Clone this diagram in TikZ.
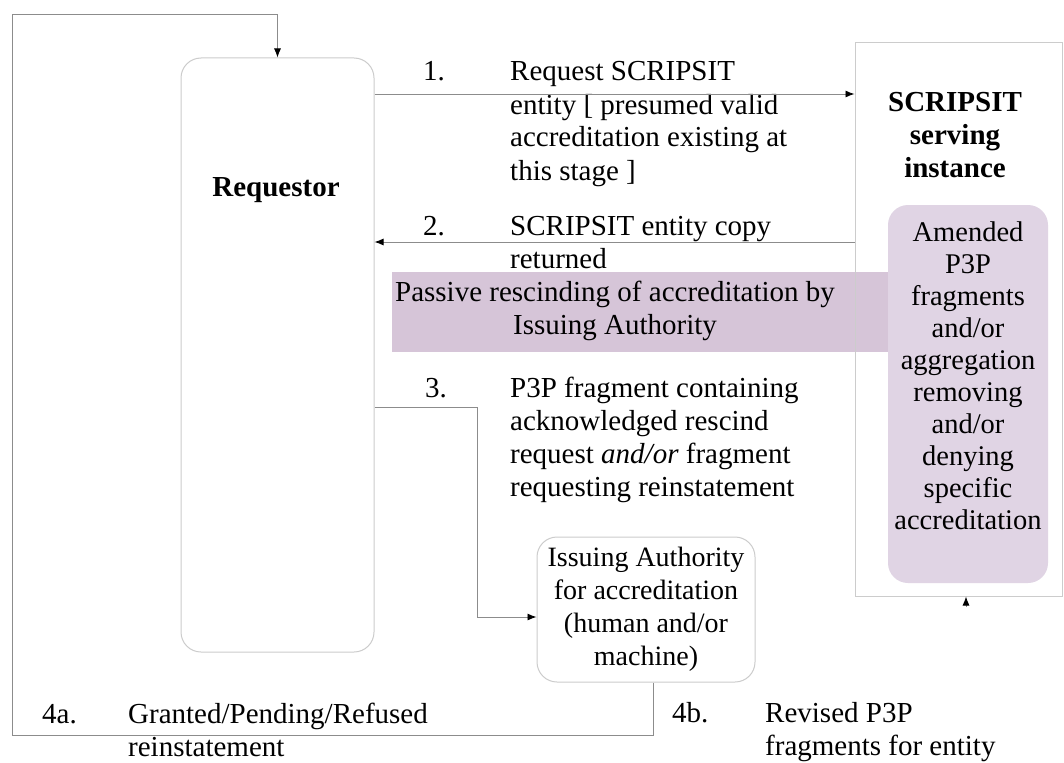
\documentclass[tikz,border=0pt]{standalone}
\usepackage{fontspec}
\setmainfont{Liberation Serif}
\usetikzlibrary{arrows.meta}
\definecolor{bandpurple}{RGB}{214,197,216}
\definecolor{boxpurple}{RGB}{224,212,228}
\begin{document}
\begin{tikzpicture}[x=1pt,y=-1pt,
  conn/.style={draw=black!45, line width=0.9pt},
  tipped/.style={-{Latex[length=9pt,width=7pt,color=black]}},
  rbox/.style={draw=black!20, line width=1pt, rounded corners=20pt, inner sep=0pt},
  txt/.style={font=\fontsize{29}{33}\selectfont, inner sep=0pt, align=left, anchor=base west},
  ctxt/.style={font=\fontsize{29}{33}\selectfont, inner sep=0pt, align=center, anchor=base},
  btxt/.style={font=\fontsize{29}{33}\selectfont\bfseries, inner sep=0pt, align=center, anchor=base}]
\useasboundingbox (0,0) rectangle (1064,762);
\fill[white] (0,0) rectangle (1064,762);

% purple band
\fill[bandpurple] (392,272) rectangle (892,352);

% boxes
\node[rbox, minimum width=193pt, minimum height=594pt] (req) at (277.5,355) {};
\node[draw=black!20, line width=1pt, minimum width=207pt, minimum height=553pt, inner sep=0pt] (scr) at (958.5,319.5) {};
\node[fill=boxpurple, rounded corners=20pt, minimum width=160pt, minimum height=378pt, inner sep=0pt] (amend) at (968,394) {};
\node[rbox, minimum width=218pt, minimum height=145pt, align=center,
      font=\fontsize{28}{33}\selectfont] (iss) at (646,609.5)
      {Issuing Authority\\for accreditation\\(human and/or\\machine)};

% box texts (anchor base = baseline of last line)
\node[btxt] (reqlabel) at (276,196) {Requestor};
\node[btxt] (scrlabel) at (955,178) {SCRIPSIT\\serving\\instance};
\node[ctxt, font=\fontsize{28.5}{32}\selectfont] (amendlabel) at (968,529)
  {Amended\\P3P\\fragments\\and/or\\aggregation\\removing\\and/or\\denying\\specific\\accreditation};
\node[ctxt] (bandlabel) at (615,334) {Passive rescinding of accreditation by\\Issuing Authority};

% step labels
\node[txt] (n1) at (423,81) {1.};
\node[txt] (t1) at (510,180) {Request SCRIPSIT\\entity [ presumed valid\\accreditation existing at\\this stage ]};
\node[txt] (n2) at (423,235) {2.};
\node[txt] (t2) at (510,268) {SCRIPSIT entity copy\\returned};
\node[txt] (n3) at (425,397) {3.};
\node[txt] (t3) at (510,496) {P3P fragment containing\\acknowledged rescind\\request \textit{and/or} fragment\\requesting reinstatement};
\node[txt] (n4a) at (42,723) {4a.};
\node[txt] (t4a) at (128,756) {Granted/Pending/Refused\\reinstatement};
\node[txt] (n4b) at (672,722) {4b.};
\node[txt] (t4b) at (765,755) {Revised P3P\\fragments for entity};

% helper coordinates
\coordinate (y1) at (0,94);
\coordinate (y2) at (0,242);
\coordinate (y3) at (0,407);
\coordinate (x3) at (477,0);
\coordinate (y4) at (0,617);
\coordinate (x4) at (653,0);
\coordinate (ybot) at (0,735);
\coordinate (xleft) at (12,0);
\coordinate (ytop) at (0,14);
\coordinate (s5) at (966,607);

% connectors
\draw[conn, tipped] (req.east |- y1) -- (scr.west |- y1);
\draw[conn, tipped] (scr.west |- y2) -- (req.east |- y2);
\draw[conn, tipped] (req.east |- y3) -- (x3 |- y3) -- (x3 |- y4) -- (iss.west |- y4);
\draw[conn, tipped] (x4 |- iss.south) -- (x4 |- ybot) -- (xleft |- ybot) -- (xleft |- ytop) -- (req.north |- ytop) -- (req.north);
\draw[conn, tipped] (s5) -- (scr.south -| s5);
\end{tikzpicture}
\end{document}
